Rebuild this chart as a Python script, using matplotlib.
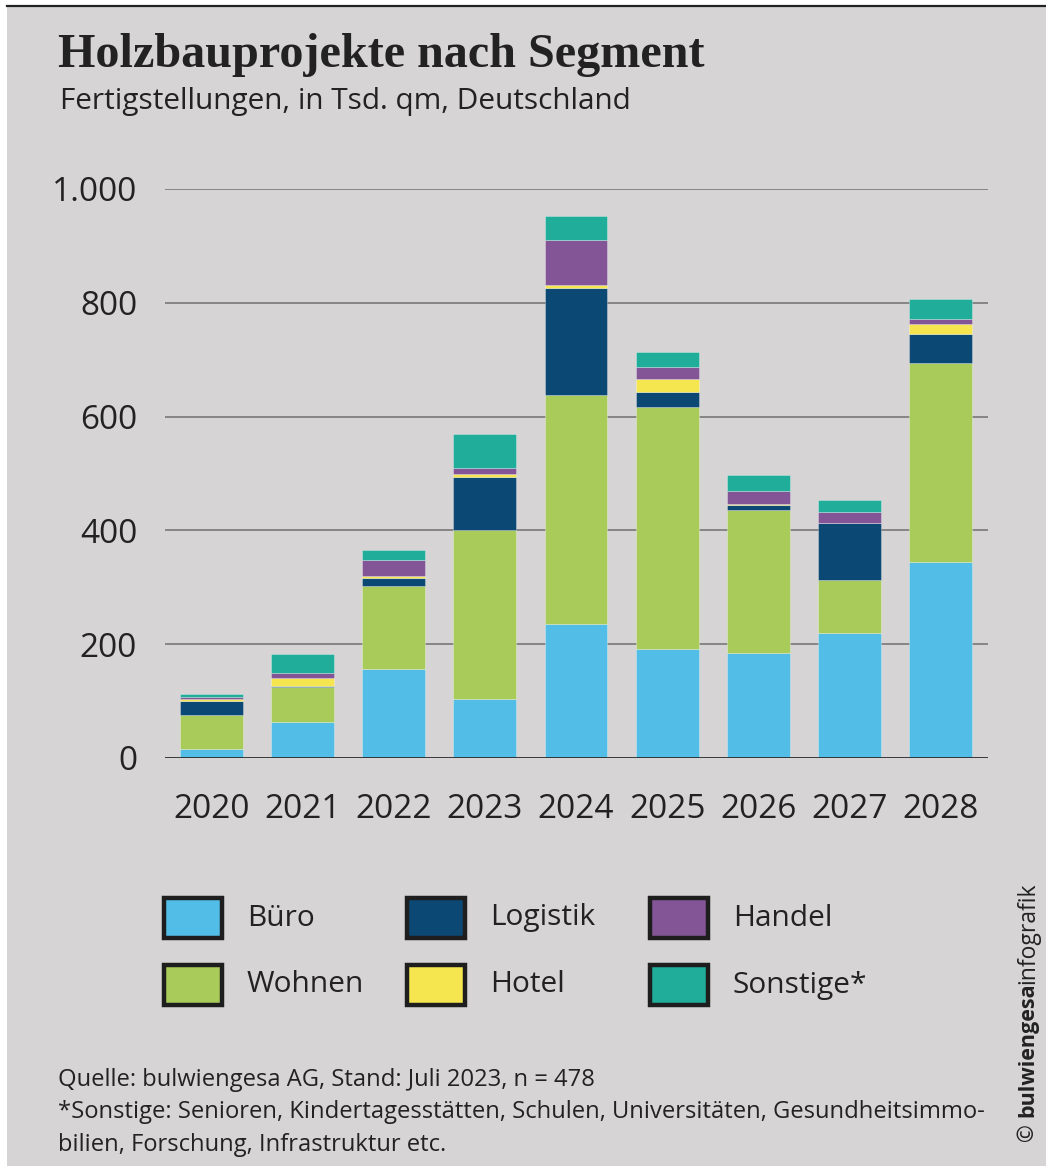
import matplotlib
matplotlib.use("Agg")
import matplotlib.pyplot as plt
from matplotlib.patches import Rectangle
import numpy as np

years = ["2020", "2021", "2022", "2023", "2024", "2025", "2026", "2027", "2028"]
segments = ["Büro", "Wohnen", "Logistik", "Hotel", "Handel", "Sonstige*"]
buero    = [16, 64, 157, 104, 236, 192, 185, 219, 345]
wohnen   = [60, 60, 146, 296, 402, 424, 250, 94, 350]
logistik = [24, 2, 13, 94, 188, 28, 9, 100, 50]
hotel    = [3, 15, 4, 6, 6, 22, 3, 0, 18]
handel   = [4, 9, 28, 10, 79, 22, 22, 19, 9]
sonstige = [6, 32, 18, 60, 41, 25, 28, 21, 35]
yticks = [0, 200, 400, 600, 800, 1000]
ytick_labels = ["0", "200", "400", "600", "800", "1.000"]

colors = {"Büro": "#52BDE6", "Wohnen": "#A8CB5A", "Logistik": "#0B4874",
          "Hotel": "#F5E650", "Handel": "#835596", "Sonstige*": "#20AD9A"}
series = [buero, wohnen, logistik, hotel, handel, sonstige]

W, H = 1046, 1166
BG = "#D6D4D5"
TXT = "#222222"
plt.rcParams['font.family'] = ['Open Sans', 'DejaVu Sans']

fig = plt.figure(figsize=(W / 100, H / 100), dpi=100)
fig.patch.set_facecolor("white")

def fx(x):
    return x / W

def fy(y):
    return 1 - y / H

# gray panel with top rule
fig.patches.append(Rectangle((fx(7), 0), 1 - fx(7), fy(7), transform=fig.transFigure,
                             facecolor=BG, edgecolor="none", zorder=-5))
fig.add_artist(plt.Line2D([fx(7), 1], [fy(6), fy(6)], transform=fig.transFigure,
                          color="#222222", lw=1.6))

ax = fig.add_axes([fx(165), fy(758), fx(988) - fx(165), fy(189) - fy(758)])
ax.set_zorder(2)
ax.set_facecolor("none")
x = np.arange(len(years))
bottom = np.zeros(len(years))
for name, vals in zip(segments, series):
    ax.bar(x, vals, width=0.69, bottom=bottom, color=colors[name],
           edgecolor=(1, 1, 1, 0.35), linewidth=0.6, zorder=3)
    bottom += np.array(vals)

ax.set_xlim(-0.51, 8.52)
ax.set_ylim(0, 1000)
ax.set_yticks(yticks)
ax.set_yticklabels(ytick_labels)
ax.set_xticks(x)
ax.set_xticklabels(years)
for s in ax.spines.values():
    s.set_visible(False)
ax.tick_params(axis="y", length=0, pad=20, labelsize=24, labelcolor=TXT)
ax.tick_params(axis="x", length=0, pad=25, labelsize=24, labelcolor=TXT)
for v in yticks[1:]:
    ax.axhline(v, color="#858585", lw=1.4, zorder=1)
ax.axhline(0, color="#2a2a2a", lw=2.0, zorder=4)

# title and subtitle
fig.text(fx(58), fy(55), "Holzbauprojekte nach Segment", family=["Liberation Serif", "DejaVu Serif"],
         weight="bold", fontsize=34.7, color=TXT, va="center", ha="left")
fig.text(fx(60), fy(101), "Fertigstellungen, in Tsd. qm, Deutschland", fontsize=21.4,
         color=TXT, va="center", ha="left")

# legend
cols_x = [162, 405, 648]
rows_y = [918, 985]
order = [["Büro", "Logistik", "Handel"], ["Wohnen", "Hotel", "Sonstige*"]]
for r, row in enumerate(order):
    for c, name in enumerate(row):
        x0 = cols_x[c]
        yc = rows_y[r]
        fig.patches.append(Rectangle((fx(x0 + 2), fy(yc + 20)), fx(58) - fx(0), fy(0) - fy(40),
                                     transform=fig.transFigure, facecolor=colors[name],
                                     edgecolor="#1e1e1e", linewidth=3.2, zorder=5))
        fig.text(fx(x0 + 85), fy(yc), name, fontsize=21.5, color=TXT, va="center", ha="left")

# footnotes
foot = ["Quelle: bulwiengesa AG, Stand: Juli 2023, n = 478",
        "*Sonstige: Senioren, Kindertagesstätten, Schulen, Universitäten, Gesundheitsimmo-",
        "bilien, Forschung, Infrastruktur etc."]
for i, line in enumerate(foot):
    fig.text(fx(58), fy(1080 + 32.5 * i), line, fontsize=17.1, color=TXT, va="center", ha="left")

# rotated credit
fig.text(fx(1028), fy(1141), "©", rotation=90, fontsize=15.5, color=TXT, va="bottom", ha="center")
fig.text(fx(1028), fy(1117), "bulwiengesa", rotation=90, fontsize=15.5, weight="bold",
         color=TXT, va="bottom", ha="center")
fig.text(fx(1028), fy(984), "infografik", rotation=90, fontsize=16.5, color=TXT,
         va="bottom", ha="center")

fig.savefig("out.png", dpi=100, facecolor=fig.get_facecolor())
